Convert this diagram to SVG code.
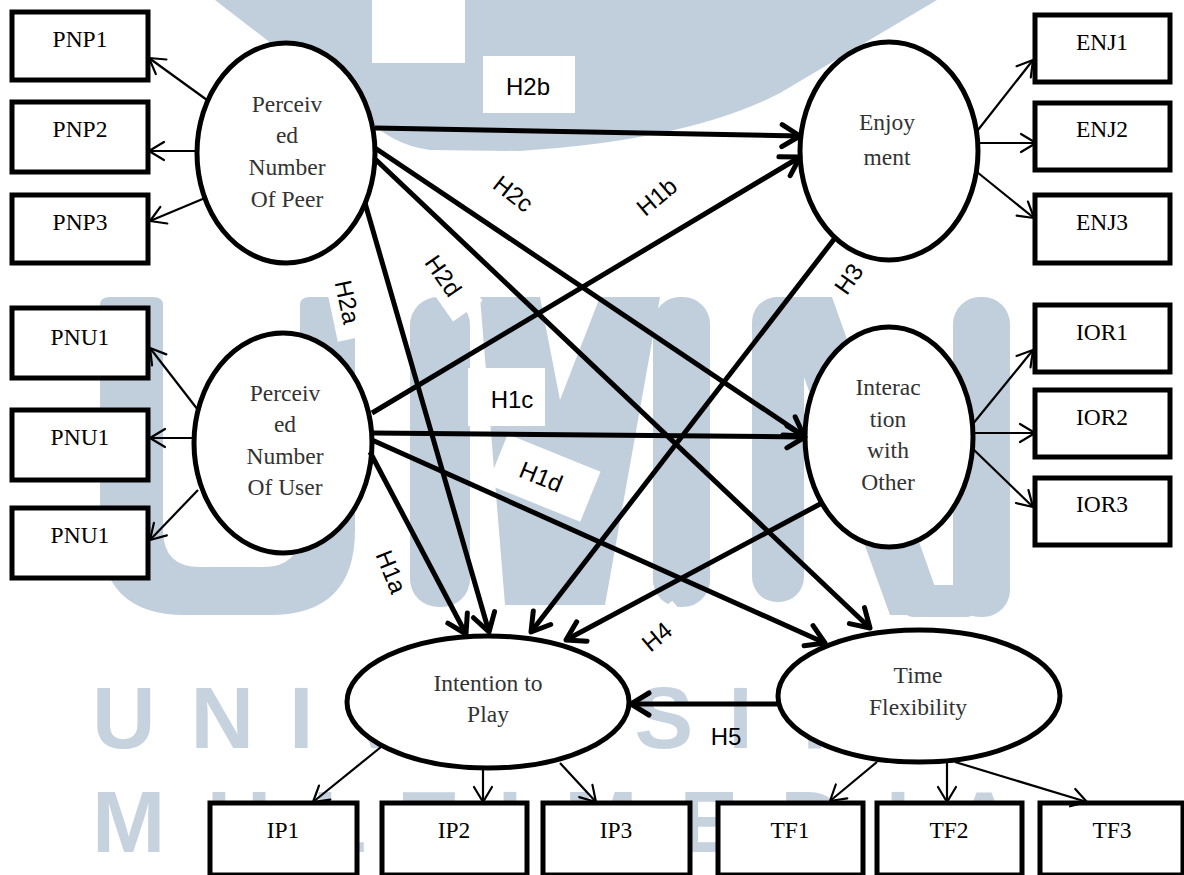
<svg xmlns="http://www.w3.org/2000/svg" width="1184" height="875" viewBox="0 0 1184 875">
<defs>
<style>
.wm{fill:#c1cfdc}
.wmt{fill:#c6d3df;font-family:"Liberation Sans",Arial,sans-serif;font-weight:bold;font-size:88px}
.box{fill:#fff;stroke:#000;stroke-width:5}
.ell{fill:#fff;stroke:#000;stroke-width:5}
.bt{font-family:"Liberation Serif","Times New Roman",serif;font-size:23.5px;fill:#000;text-anchor:middle}
.et{font-family:"Liberation Serif","Times New Roman",serif;font-size:23.5px;fill:#333;text-anchor:middle}
.lb{font-family:"Liberation Sans",Arial,sans-serif;font-size:24px;fill:#000;text-anchor:middle}
.lbox{fill:#fff}
.thick{stroke:#000;stroke-width:5;fill:none;marker-end:url(#ah)}
.thin{stroke:#000;stroke-width:2.2;fill:none;marker-end:url(#ahs)}
</style>
<marker id="ah" markerUnits="userSpaceOnUse" viewBox="-30 -20 40 40" markerWidth="40" markerHeight="40" refX="0" refY="0" orient="auto" overflow="visible">
<path d="M-18,-11 L0,0 L-18,11" fill="none" stroke="#000" stroke-width="5" stroke-linecap="round" stroke-linejoin="round"/>
</marker>
<marker id="ahs" markerUnits="userSpaceOnUse" viewBox="-30 -20 40 40" markerWidth="40" markerHeight="40" refX="0" refY="0" orient="auto" overflow="visible">
<path d="M-15,-9 L0,0 L-15,9" fill="none" stroke="#000" stroke-width="2.2" stroke-linecap="round" stroke-linejoin="round"/>
</marker>
</defs>
<rect x="0" y="0" width="1184" height="875" fill="#fff"/>
<g id="watermark">
<path class="wm" d="M215 0 L360 112 Q390 145 430 150 L520 151 Q690 140 780 93 L937 0 Z"/>
<rect x="372" y="0" width="93" height="63" fill="#fff"/>
<path class="wm" d="M100 305 Q100 297 110 297 L153 297 Q163 297 163 305 L163 530 Q163 567 200 567 L263 567 Q300 567 300 530 L300 305 Q300 297 310 297 L345 297 Q355 297 355 305 L355 530 Q355 615 270 615 L185 615 Q100 615 100 530 Z"/>
<rect class="wm" x="410" y="297" width="60" height="310" rx="28"/>
<polygon class="wm" points="480,297 540,297 560,400 600,297 660,297 605,605 505,605"/>
<rect class="wm" x="653" y="297" width="57" height="310" rx="27"/>
<rect class="wm" x="752" y="297" width="52" height="305" rx="25"/>
<polygon class="wm" points="775,297 832,297 945,615 890,615"/>
<rect class="wm" x="953" y="297" width="57" height="320" rx="27"/>
<rect class="wm" x="900" y="585" width="80" height="32" rx="14"/>
<text class="wmt" x="92" y="748" letter-spacing="35">UNIVERSITAS</text>
<text class="wmt" x="92" y="852" letter-spacing="42">MULTIMEDIA</text>
</g>
<g id="label-boxes">
<rect class="lbox" x="483" y="56" width="92" height="57"/>
<rect class="lbox" x="468" y="368" width="77" height="58"/>
<rect class="lbox" x="-36" y="-17" width="72" height="34" transform="translate(347,303) rotate(78)"/>
<rect class="lbox" x="-38" y="-18" width="76" height="36" transform="translate(446,280) rotate(55)"/>
<rect class="lbox" x="-50" y="-27" width="100" height="54" transform="translate(544,478) rotate(22)"/>
<rect class="lbox" x="-35" y="-18" width="70" height="36" transform="translate(657,637) rotate(-40)"/>
</g>
<g id="node-PNP">
<ellipse class="ell" cx="286" cy="153" rx="89" ry="110"/>
<text class="et" x="287" y="112">Perceiv</text>
<text class="et" x="287" y="143">ed</text>
<text class="et" x="287" y="175">Number</text>
<text class="et" x="287" y="207">Of Peer</text>
</g>
<g id="node-PNU">
<ellipse class="ell" cx="283" cy="443" rx="89" ry="110"/>
<text class="et" x="285" y="401">Perceiv</text>
<text class="et" x="285" y="432">ed</text>
<text class="et" x="285" y="464">Number</text>
<text class="et" x="285" y="495">Of User</text>
</g>
<g id="node-ENJ">
<ellipse class="ell" cx="889" cy="151" rx="89" ry="109"/>
<text class="et" x="887" y="130">Enjoy</text>
<text class="et" x="887" y="165">ment</text>
</g>
<g id="node-IOR">
<ellipse class="ell" cx="889" cy="437" rx="84" ry="110"/>
<text class="et" x="888" y="395">Interac</text>
<text class="et" x="888" y="427">tion</text>
<text class="et" x="888" y="458">with</text>
<text class="et" x="888" y="490">Other</text>
</g>
<g id="node-ITP">
<ellipse class="ell" cx="488" cy="702" rx="141" ry="66"/>
<text class="et" x="488" y="691">Intention to</text>
<text class="et" x="488" y="722">Play</text>
</g>
<g id="node-TF">
<ellipse class="ell" cx="919" cy="696" rx="141" ry="66"/>
<text class="et" x="918" y="683">Time</text>
<text class="et" x="918" y="715">Flexibility</text>
</g>
<g id="node-PNP1"><rect class="box" x="12" y="12" width="136" height="68"/><text class="bt" x="80" y="47">PNP1</text></g>
<g id="node-PNP2"><rect class="box" x="12" y="102" width="136" height="70"/><text class="bt" x="80" y="137">PNP2</text></g>
<g id="node-PNP3"><rect class="box" x="12" y="195" width="136" height="68"/><text class="bt" x="80" y="230">PNP3</text></g>
<g id="node-PNU1a"><rect class="box" x="12" y="308" width="136" height="70"/><text class="bt" x="80" y="345">PNU1</text></g>
<g id="node-PNU1b"><rect class="box" x="12" y="410" width="136" height="70"/><text class="bt" x="80" y="445">PNU1</text></g>
<g id="node-PNU1c"><rect class="box" x="12" y="508" width="136" height="70"/><text class="bt" x="80" y="543">PNU1</text></g>
<g id="node-ENJ1"><rect class="box" x="1035" y="15" width="135" height="67"/><text class="bt" x="1102" y="50">ENJ1</text></g>
<g id="node-ENJ2"><rect class="box" x="1035" y="103" width="135" height="67"/><text class="bt" x="1102" y="137">ENJ2</text></g>
<g id="node-ENJ3"><rect class="box" x="1035" y="195" width="135" height="68"/><text class="bt" x="1102" y="230">ENJ3</text></g>
<g id="node-IOR1"><rect class="box" x="1035" y="305" width="135" height="67"/><text class="bt" x="1102" y="340">IOR1</text></g>
<g id="node-IOR2"><rect class="box" x="1035" y="390" width="135" height="67"/><text class="bt" x="1102" y="425">IOR2</text></g>
<g id="node-IOR3"><rect class="box" x="1035" y="478" width="135" height="67"/><text class="bt" x="1102" y="512">IOR3</text></g>
<g id="node-IP1"><rect class="box" x="210" y="803" width="147" height="72"/><text class="bt" x="283" y="838">IP1</text></g>
<g id="node-IP2"><rect class="box" x="382" y="803" width="145" height="72"/><text class="bt" x="454" y="838">IP2</text></g>
<g id="node-IP3"><rect class="box" x="543" y="803" width="147" height="72"/><text class="bt" x="616" y="838">IP3</text></g>
<g id="node-TF1"><rect class="box" x="718" y="803" width="145" height="72"/><text class="bt" x="790" y="838">TF1</text></g>
<g id="node-TF2"><rect class="box" x="877" y="803" width="145" height="72"/><text class="bt" x="949" y="838">TF2</text></g>
<g id="node-TF3"><rect class="box" x="1040" y="803" width="143" height="72"/><text class="bt" x="1112" y="838">TF3</text></g>
<g id="connectors">
<line class="thick" x1="375" y1="128" x2="800" y2="136"/>
<line class="thick" x1="375" y1="148" x2="804" y2="436"/>
<line class="thick" x1="374" y1="158" x2="870" y2="628"/>
<line class="thick" x1="365" y1="203" x2="489" y2="632"/>
<line class="thick" x1="372" y1="413" x2="800" y2="157"/>
<line class="thick" x1="373" y1="433" x2="805" y2="437"/>
<line class="thick" x1="372" y1="440" x2="825" y2="643"/>
<line class="thick" x1="370" y1="452" x2="466" y2="634"/>
<line class="thick" x1="835" y1="238" x2="531" y2="632"/>
<line class="thick" x1="822" y1="503" x2="566" y2="640"/>
<line class="thick" x1="778" y1="704" x2="631" y2="704"/>
<line class="thin" x1="207" y1="100" x2="149" y2="58"/>
<line class="thin" x1="197" y1="151" x2="149" y2="151"/>
<line class="thin" x1="205" y1="198" x2="150" y2="221"/>
<line class="thin" x1="198" y1="410" x2="150" y2="348"/>
<line class="thin" x1="194" y1="438" x2="150" y2="438"/>
<line class="thin" x1="198" y1="490" x2="150" y2="540"/>
<line class="thin" x1="978" y1="130" x2="1033" y2="60"/>
<line class="thin" x1="979" y1="143" x2="1036" y2="143"/>
<line class="thin" x1="977" y1="172" x2="1034" y2="218"/>
<line class="thin" x1="972" y1="425" x2="1033" y2="350"/>
<line class="thin" x1="974" y1="433" x2="1035" y2="433"/>
<line class="thin" x1="972" y1="448" x2="1033" y2="507"/>
<line class="thin" x1="381" y1="747" x2="313" y2="802"/>
<line class="thin" x1="483" y1="768" x2="483" y2="802"/>
<line class="thin" x1="560" y1="763" x2="596" y2="802"/>
<line class="thin" x1="877" y1="762" x2="830" y2="801"/>
<line class="thin" x1="947" y1="762" x2="947" y2="802"/>
<line class="thin" x1="955" y1="762" x2="1087" y2="802"/>
</g>
<g id="labels">
<text class="lb" x="528" y="95">H2b</text>
<text class="lb" x="512" y="408">H1c</text>
<text class="lb" x="726" y="745">H5</text>
<text class="lb" transform="translate(513,194) rotate(38)" dy="8">H2c</text>
<text class="lb" transform="translate(657,197) rotate(-40)" dy="8">H1b</text>
<text class="lb" transform="translate(443,276) rotate(55)" dy="8">H2d</text>
<text class="lb" transform="translate(347,302) rotate(78)" dy="8">H2a</text>
<text class="lb" transform="translate(541,477) rotate(22)" dy="8">H1d</text>
<text class="lb" transform="translate(391,572) rotate(68)" dy="8">H1a</text>
<text class="lb" transform="translate(849,279) rotate(-55)" dy="8">H3</text>
<text class="lb" transform="translate(657,637) rotate(-40)" dy="8">H4</text>
</g>
</svg>
